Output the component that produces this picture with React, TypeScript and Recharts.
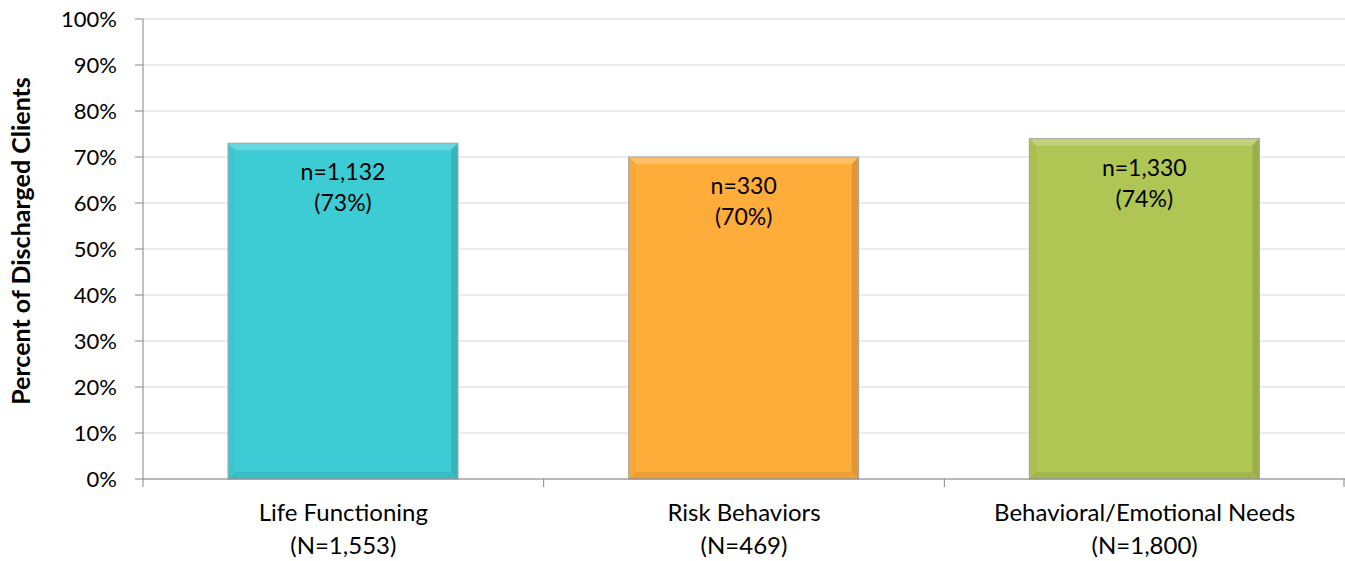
import { BarChart, Bar, XAxis, YAxis, CartesianGrid, LabelList } from 'recharts';

const categories = ['Life Functioning', 'Risk Behaviors', 'Behavioral/Emotional Needs'];
const totals = ['(N=1,553)', '(N=469)', '(N=1,800)'];
const counts = ['n=1,132', 'n=330', 'n=1,330'];
const percents = [73, 70, 74];
const colors = ['#3ECCD4', '#FFAD3A', '#AFC655'];
const yTicks = [0, 10, 20, 30, 40, 50, 60, 70, 80, 90, 100];

const data = categories.map((name, i) => ({
  name,
  total: totals[i],
  count: counts[i],
  pct: percents[i],
  color: colors[i],
}));

const W = 1345;
const H = 561;
const Y_AXIS_W = 143;
const PLOT_W = W - Y_AXIS_W;
const BAND = PLOT_W / categories.length;
const FONT = 'Lato, "Open Sans", sans-serif';

function shade(hex: string, amt: number) {
  const n = parseInt(hex.slice(1), 16);
  const f = (c: number) => Math.max(0, Math.min(255, Math.round(amt > 0 ? c + (255 - c) * amt : c * (1 + amt))));
  const r = f((n >> 16) & 255), g = f((n >> 8) & 255), b = f(n & 255);
  return `rgb(${r},${g},${b})`;
}

// bar with a soft bevelled edge
function BevelBar(props: any) {
  const { x, y, width, height, payload } = props;
  const c = payload.color;
  const b = 7;
  const x2 = x + width, y2 = y + height;
  return (
    <g>
      <rect x={x} y={y} width={width} height={height} fill={c} />
      <polygon points={`${x},${y} ${x2},${y} ${x2 - b},${y + b} ${x + b},${y + b}`} fill={shade(c, 0.22)} />
      <polygon points={`${x},${y} ${x + b},${y + b} ${x + b},${y2 - b} ${x},${y2}`} fill={shade(c, -0.03)} />
      <polygon points={`${x2},${y} ${x2},${y2} ${x2 - b},${y2 - b} ${x2 - b},${y + b}`} fill={shade(c, -0.12)} />
      <polygon points={`${x},${y2} ${x + b},${y2 - b} ${x2 - b},${y2 - b} ${x2},${y2}`} fill={shade(c, -0.08)} />
      <rect x={x} y={y} width={width} height={height} fill="none" stroke="#A6A6A6" strokeWidth={1} />
    </g>
  );
}

function XTick(props: any) {
  const { x, y, index } = props;
  const left = x - BAND / 2;
  return (
    <g>
      <line x1={left} y1={y - 8} x2={left} y2={y} stroke="#868686" />
      {index === categories.length - 1 && (
        <line x1={x + BAND / 2 - 1} y1={y - 8} x2={x + BAND / 2 - 1} y2={y} stroke="#868686" />
      )}
      <text x={x} y={y + 34} textAnchor="middle" fontSize={24} fontFamily={FONT} fill="#000">
        {categories[index]}
      </text>
      <text x={x} y={y + 67} textAnchor="middle" fontSize={24} fontFamily={FONT} fill="#000">
        {totals[index]}
      </text>
    </g>
  );
}

function BarLabel(props: any) {
  const { x, y, width, index } = props;
  const cx = x + width / 2;
  return (
    <g>
      <text x={cx} y={y + 37} textAnchor="middle" fontSize={23} fontFamily={FONT} fill="#000">
        {counts[index]}
      </text>
      <text x={cx} y={y + 68} textAnchor="middle" fontSize={23} fontFamily={FONT} fill="#000">
        ({percents[index]}%)
      </text>
    </g>
  );
}

export default function App() {
  return (
    <div style={{ position: 'absolute', left: 0, top: 0, background: '#fff' }}>
      <BarChart width={W} height={H} data={data} margin={{ top: 19, right: 0, left: 0, bottom: 0 }}>
        <CartesianGrid vertical={false} stroke="#D9D9D9" />
        <XAxis
          dataKey="name"
          height={82}
          axisLine={{ stroke: '#868686' }}
          tickLine={false}
          tick={<XTick />}
          interval={0}
        />
        <YAxis
          width={Y_AXIS_W}
          domain={[0, 100]}
          ticks={yTicks}
          tickFormatter={(v) => `${v}%`}
          axisLine={{ stroke: '#868686' }}
          tickLine={{ stroke: '#868686' }}
          tickSize={8}
          tickMargin={18}
          tick={{ fontSize: 22, fontFamily: FONT, fill: '#000' }}
          label={{
            value: 'Percent of Discharged Clients',
            angle: -90,
            position: 'insideLeft',
            dx: 16,
            dy: -8,
            style: { fontSize: 25, fontWeight: 'bold', fontFamily: FONT, fill: '#000', textAnchor: 'middle' },
          }}
        />
        <Bar dataKey="pct" barSize={230} shape={<BevelBar />} isAnimationActive={false}>
          <LabelList dataKey="pct" content={<BarLabel />} />
        </Bar>
      </BarChart>
    </div>
  );
}
